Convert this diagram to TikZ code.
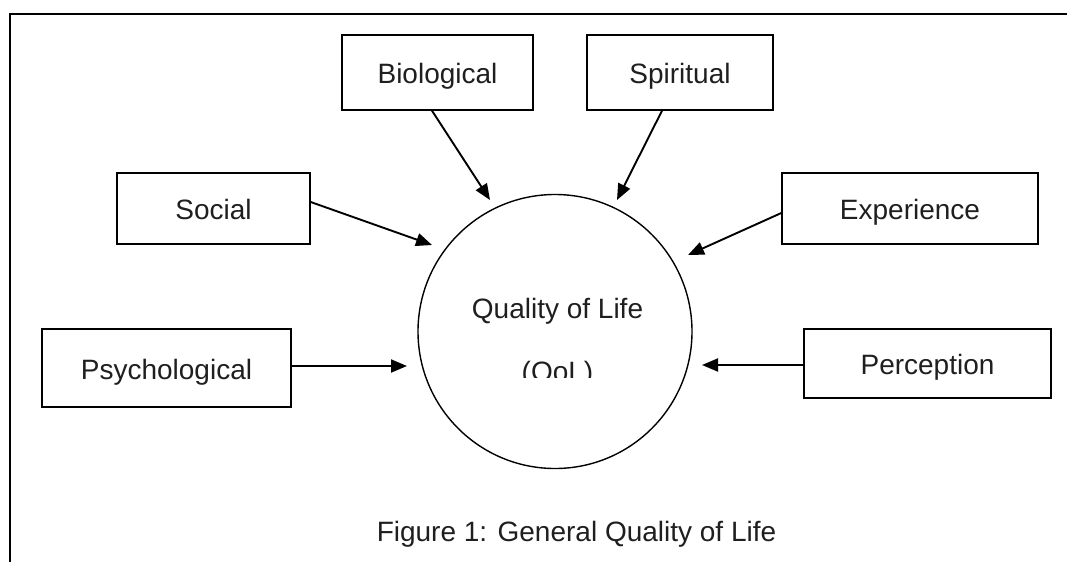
\documentclass[tikz,border=0pt]{standalone}
\usepackage{fontspec}
\setmainfont{Liberation Sans}
\usetikzlibrary{arrows.meta}
\begin{document}
\begin{tikzpicture}[x=1pt,y=-1pt,
  txt/.style={font=\fontsize{28}{33}\selectfont, text=black!88},
  factor/.style={txt, draw, line width=1.4pt, inner sep=0pt, text height=22pt, text depth=0pt},
  link/.style={line width=1.9pt, -{Triangle[length=16pt,width=13pt]}}]
\useasboundingbox (0,0) rectangle (1067,562);
\draw[line width=1.3pt] (1067,14) -- (10,14) -- (10,562);

\node[factor, minimum width=191pt, minimum height=75pt] (bio) at (437.5,72.5) {Biological};
\node[factor, minimum width=186pt, minimum height=75pt] (spi) at (680,72.5) {Spiritual};
\node[factor, minimum width=193pt, minimum height=71pt] (soc) at (213.5,208.5) {Social};
\node[factor, minimum width=256pt, minimum height=71pt] (exp) at (910,208.5) {Experience};
\node[factor, minimum width=249pt, minimum height=78pt] (psy) at (166.5,368) {Psychological};
\node[factor, minimum width=247pt, minimum height=69pt] (per) at (927.5,363.5) {Perception};

\draw[line width=1.4pt] (555,331.5) circle[radius=137pt];
\coordinate (qol) at (555,331.5);
\node[txt, anchor=base] (q1) at (557.5,318) {Quality of Life};
\begin{scope}
\clip (400,340) rectangle (700,377);
\node[txt, anchor=base] (q2) at (557.5,381) {(QoL)};
\end{scope}

\coordinate (tbio) at (490,200);
\coordinate (tspi) at (617,200);
\coordinate (tsoc) at (432,245);
\coordinate (texp) at (688,255);
\coordinate (tpsy) at (407,366);
\coordinate (tper) at (702,365);

\draw[link] ([xshift=-5.5pt]bio.south) -- (tbio);
\draw[link] ([xshift=-18pt]spi.south) -- (tspi);
\draw[link] ([yshift=6.5pt]soc.east) -- (tsoc);
\draw[link] ([yshift=-4.5pt]exp.west) -- (texp);
\draw[link] ([yshift=2pt]psy.east) -- (tpsy);
\draw[link] ([yshift=-1.5pt]per.west) -- (tper);

\node[txt, anchor=base] (cap) at (576.5,541) {Figure 1: General Quality of Life};
\end{tikzpicture}
\end{document}
